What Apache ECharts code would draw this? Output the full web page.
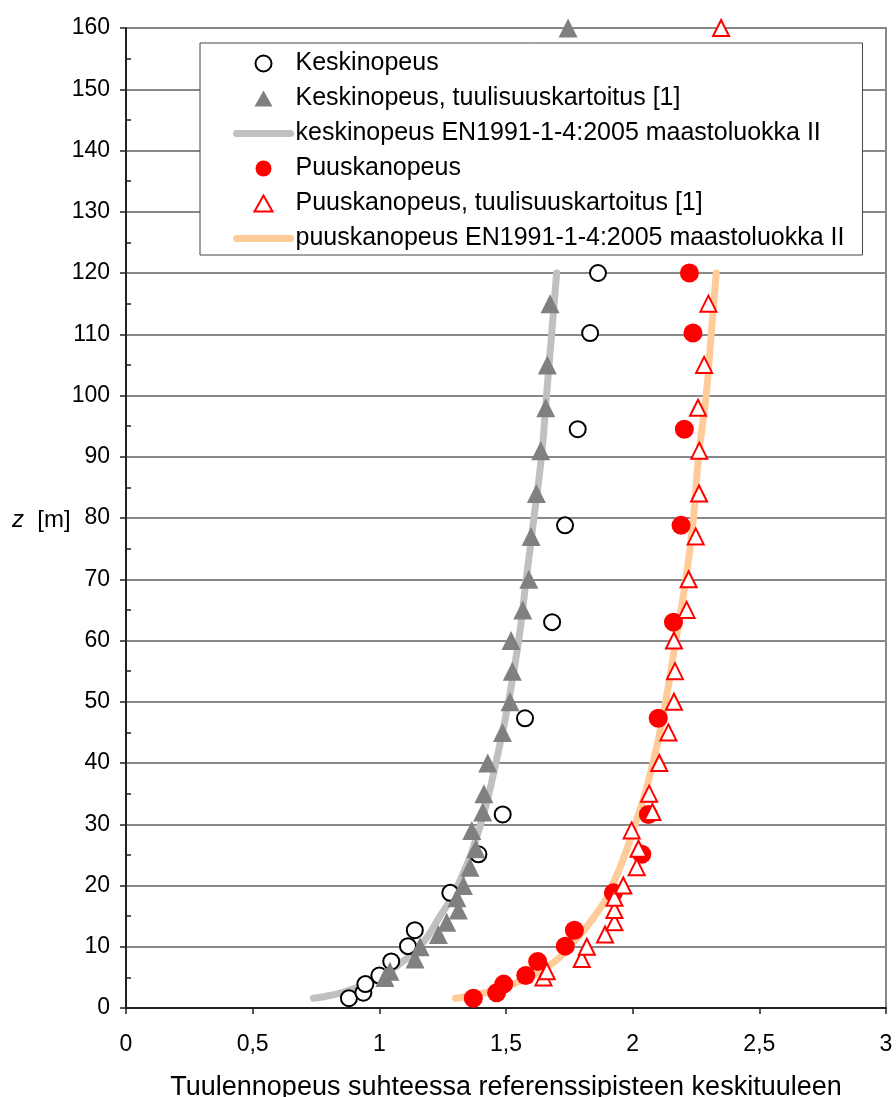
<!DOCTYPE html>
<html>
<head>
<meta charset="utf-8">
<script src="https://cdn.jsdelivr.net/npm/echarts@6/dist/echarts.min.js"></script>
<style>
html,body{margin:0;padding:0;background:#fff;}
#chart{width:896px;height:1097px;}
</style>
</head>
<body>
<div id="chart"></div>
<script>
// Heights of measured points [m]
var measHeights = [1.6, 2.5, 3.9, 5.3, 7.6, 10.1, 12.7, 18.8, 25.1, 31.6, 47.3, 63.0, 78.8, 94.5, 110.2, 120];
// Keskinopeus (mean speed, measured)
var meanMeas = [0.88, 0.937, 0.945, 1.00, 1.047, 1.113, 1.14, 1.28, 1.391, 1.487, 1.575, 1.682, 1.733, 1.783, 1.832, 1.863];
// Puuskanopeus (gust speed, measured)
var gustMeas = [1.371, 1.463, 1.491, 1.578, 1.625, 1.734, 1.77, 1.924, 2.036, 2.062, 2.101, 2.161, 2.191, 2.204, 2.238, 2.224];

// Heights of wind atlas points [m]
var atlasHeights = [5, 6, 8, 10, 12, 14, 16, 18, 20, 23, 26, 29, 32, 35, 40, 45, 50, 55, 60, 65, 70, 77, 84, 91, 98, 105, 115, 160];
// Keskinopeus, tuulisuuskartoitus [1]
var meanAtlas = [1.022, 1.042, 1.141, 1.161, 1.233, 1.266, 1.312, 1.306, 1.332, 1.358, 1.381, 1.365, 1.408, 1.413, 1.428, 1.486, 1.516, 1.525, 1.520, 1.566, 1.590, 1.599, 1.620, 1.637, 1.657, 1.663, 1.674, 1.745];
// Puuskanopeus, tuulisuuskartoitus [1]
var gustAtlas = [1.648, 1.661, 1.799, 1.819, 1.891, 1.928, 1.928, 1.928, 1.963, 2.016, 2.023, 1.996, 2.078, 2.065, 2.105, 2.141, 2.163, 2.167, 2.163, 2.213, 2.221, 2.249, 2.262, 2.263, 2.258, 2.282, 2.299, 2.349];

// EN1991-1-4:2005 maastoluokka II profiles
var lineHeights = [1.6, 2, 3, 5, 7.5, 10, 15, 20, 30, 40, 50, 60, 70, 80, 90, 100, 110, 120];
var meanLine = [0.74, 0.80, 0.89, 1.00, 1.09, 1.16, 1.24, 1.31, 1.40, 1.46, 1.51, 1.55, 1.58, 1.61, 1.64, 1.66, 1.68, 1.70];
var gustLine = [1.30, 1.36, 1.46, 1.59, 1.69, 1.75, 1.85, 1.92, 2.01, 2.08, 2.13, 2.17, 2.21, 2.24, 2.26, 2.29, 2.31, 2.33];

var seriesNames = [
  'Keskinopeus',
  'Keskinopeus, tuulisuuskartoitus [1]',
  'keskinopeus EN1991-1-4:2005 maastoluokka II',
  'Puuskanopeus',
  'Puuskanopeus, tuulisuuskartoitus [1]',
  'puuskanopeus EN1991-1-4:2005 maastoluokka II'
];
var xTitle = 'Tuulennopeus suhteessa referenssipisteen keskituuleen';

function pairs(xs, zs) { return xs.map(function (v, i) { return [v, zs[i]]; }); }

var FONT = 'Liberation Sans, Arial, sans-serif';
// legend triangle icon, padded to the legend item box so it is not stretched
var TRI_ICON = 'path://M0,0 M54,16 M18,16 L27,0 L36,16 Z';
// tiny centre mark for line series (hidden inside the thick legend line)
var DOT_ICON = 'path://M0,0 M16,16 M7.5,7.5 L8.5,7.5 L8.5,8.5 L7.5,8.5 Z';

var chart = echarts.init(document.getElementById('chart'), null, {renderer: 'canvas'});

chart.setOption({
  backgroundColor: '#ffffff',
  animation: false,
  grid: {left: 126, right: 10, top: 28, bottom: 89, containLabel: false, outerBoundsMode: 'none',
    show: true, borderColor: '#888', borderWidth: 2, backgroundColor: 'transparent'},
  xAxis: {
    type: 'value', min: 0, max: 3, interval: 0.5,
    axisLine: {show: true, onZero: false, lineStyle: {color: '#222', width: 2}},
    axisTick: {show: true, length: 6, lineStyle: {color: '#222', width: 1.5}},
    splitLine: {show: false},
    axisLabel: {fontFamily: FONT, fontSize: 23, color: '#000', margin: 25,
      formatter: function (v) { return String(v).replace('.', ','); }},
    name: xTitle, nameLocation: 'middle', nameGap: 66,
    nameTextStyle: {fontFamily: FONT, fontSize: 27, color: '#000'}
  },
  yAxis: {
    type: 'value', min: 0, max: 160, interval: 10,
    axisLine: {show: true, onZero: false, lineStyle: {color: '#222', width: 2}},
    axisTick: {show: true, length: 6, lineStyle: {color: '#222', width: 1.5}},
    minorTick: {show: true, splitNumber: 2, length: -5, lineStyle: {color: '#222', width: 1.5}},
    splitLine: {show: true, lineStyle: {color: '#888', width: 2}},
    axisLabel: {fontFamily: FONT, fontSize: 23, color: '#000', margin: 16}
  },
  graphic: [{
    type: 'text', left: 12, top: 508,
    style: {
      text: '{i|z}  [m]',
      rich: {i: {fontStyle: 'italic', fontFamily: FONT, fontSize: 24, fill: '#000'}},
      fontFamily: FONT, fontSize: 24, fill: '#000'
    }
  }],
  legend: {
    orient: 'vertical', left: 200, top: 43,
    padding: [8, 18, 4, 33],
    itemWidth: 54, itemHeight: 16, itemGap: 10,
    backgroundColor: '#fff', borderColor: '#444', borderWidth: 1,
    textStyle: {fontFamily: FONT, fontSize: 25, color: '#000'},
    lineStyle: {width: 7, cap: 'round'},
    data: [
      {name: seriesNames[0], icon: 'circle'},
      {name: seriesNames[1], icon: TRI_ICON},
      {name: seriesNames[2], itemStyle: {borderWidth: 0}},
      {name: seriesNames[3], icon: 'circle'},
      {name: seriesNames[4], icon: TRI_ICON},
      {name: seriesNames[5], itemStyle: {borderWidth: 0}}
    ]
  },
  series: [
    {
      name: seriesNames[2], type: 'line', data: pairs(meanLine, lineHeights), smooth: true,
      symbol: DOT_ICON, showSymbol: false, z: 1,
      lineStyle: {color: '#C0C0C0', width: 7, cap: 'round'}, itemStyle: {color: '#C0C0C0', borderWidth: 0}
    },
    {
      name: seriesNames[5], type: 'line', data: pairs(gustLine, lineHeights), smooth: true,
      symbol: DOT_ICON, showSymbol: false, z: 1,
      lineStyle: {color: '#FFCC99', width: 7, cap: 'round'}, itemStyle: {color: '#FFCC99', borderWidth: 0}
    },
    {
      name: seriesNames[0], type: 'scatter', data: pairs(meanMeas, measHeights), z: 3,
      symbol: 'circle', symbolSize: 16,
      itemStyle: {color: '#fff', borderColor: '#000', borderWidth: 2, opacity: 1}
    },
    {
      name: seriesNames[1], type: 'scatter', data: pairs(meanAtlas, atlasHeights), z: 4,
      symbol: 'triangle', symbolSize: 19,
      itemStyle: {color: '#808080', opacity: 1}
    },
    {
      name: seriesNames[3], type: 'scatter', data: pairs(gustMeas, measHeights), z: 5,
      symbol: 'circle', symbolSize: 19,
      itemStyle: {color: '#FF0000', opacity: 1}
    },
    {
      name: seriesNames[4], type: 'scatter', data: pairs(gustAtlas, atlasHeights), z: 6,
      symbol: 'triangle', symbolSize: 16,
      itemStyle: {color: '#fff', borderColor: '#FF0000', borderWidth: 2, opacity: 1}
    }
  ]
});
</script>
</body>
</html>
